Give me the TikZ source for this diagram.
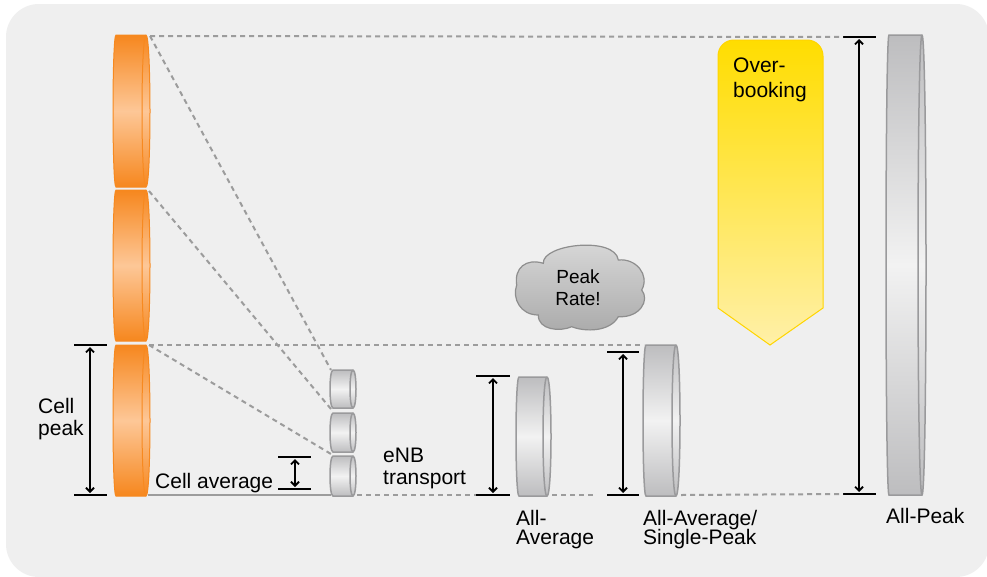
\documentclass[tikz,border=0pt]{standalone}
\usepackage{fontspec}
\setmainfont{Liberation Sans}
\usetikzlibrary{arrows.meta}
\definecolor{bgc}{HTML}{EFEFEF}
\definecolor{dashc}{HTML}{9C9C9C}
\definecolor{orA}{HTML}{F6871E}
\definecolor{orB}{HTML}{FDC797}
\definecolor{orE}{HTML}{F7891F}
\definecolor{grA}{HTML}{BDBDBF}
\definecolor{grB}{HTML}{F2F2F2}
\definecolor{grE}{HTML}{9A9A9C}
\definecolor{ylA}{HTML}{FFDD00}
\definecolor{ylB}{HTML}{FFF0A8}
\definecolor{ylE}{HTML}{FFD500}
\definecolor{clA}{HTML}{DADADA}
\definecolor{clB}{HTML}{ABABAB}
\definecolor{clE}{HTML}{8E8E8E}
\tikzset{
  og/.style={top color=orA, bottom color=orA, middle color=orB, draw=orE, line width=1pt},
  og line/.style={draw=orE, line width=1pt},
  gy/.style={top color=grA, bottom color=grA, middle color=grB, draw=grE, line width=1.5pt},
  gy line/.style={draw=grE, line width=1.5pt},
  dashln/.style={draw=dashc, line width=2pt, dash pattern=on 5pt off 4pt},
  solidln/.style={draw=dashc, line width=2.5pt},
  bar/.style={draw=black, line width=2.5pt},
  dimarr/.style={draw=black, line width=1.8pt, {Straight Barb[length=4pt,width=8pt]}-{Straight Barb[length=4pt,width=8pt]}, shorten <=2pt, shorten >=2pt},
  lbl/.style={font=\fontsize{21}{22}\selectfont, text=black, inner sep=0pt, anchor=base west},
  clbl/.style={font=\fontsize{19}{20}\selectfont, text=black, inner sep=0pt, anchor=base},
}
\newcommand{\mydisk}[7]{%
  \coordinate (#1-tl) at (#2,#4);
  \coordinate (#1-tr) at (#3,#4);
  \coordinate (#1-bl) at (#2,#5);
  \coordinate (#1-br) at (#3,#5);
  \shade[#6] (#2+3,#4) .. controls (#2-1,#4) and (#2-1,#5) .. (#2+3,#5) -- (#3-#7,#5) .. controls (#3+#7/3,#5) and (#3+#7/3,#4) .. (#3-#7,#4) -- cycle;
  \draw[#6 line] (#3-#7,#4) .. controls (#3-#7*7/3,#4) and (#3-#7*7/3,#5) .. (#3-#7,#5);
}
\newcommand{\dimarrow}[6]{%
  \coordinate (#1-t1) at (#2,#5);
  \coordinate (#1-t2) at (#3,#5);
  \coordinate (#1-b1) at (#2,#6);
  \coordinate (#1-b2) at (#3,#6);
  \coordinate (#1-at) at (#4,#5);
  \coordinate (#1-ab) at (#4,#6);
  \draw[bar] (#1-t1) -- (#1-t2);
  \draw[bar] (#1-b1) -- (#1-b2);
  \draw[dimarr] (#1-at) -- (#1-ab);
}
\begin{document}
\begin{tikzpicture}[x=1pt,y=-1pt]
\useasboundingbox (0,0) rectangle (987,576);
\fill[white] (0,0) rectangle (987,576);
\fill[bgc, rounded corners=33pt] (6,4) rectangle (989,577);

% dimension arrows
\dimarrow{dcp}{74}{107}{90}{345}{495}
\dimarrow{dca}{278}{311}{295}{457}{489}
\dimarrow{denb}{476}{510}{493}{376}{495}
\dimarrow{daasp}{607}{639}{623}{352}{495}
\dimarrow{dap}{843}{876}{859}{37}{494}
\coordinate (aaend) at (594,495);

% dashed guide lines
\coordinate (o1-tr) at (150,36);
\coordinate (o2-tr) at (149,191);
\coordinate (o3-tr) at (149,345);
\coordinate (o3-br) at (148,495);
\coordinate (s1-tl) at (331,370);
\coordinate (s1-bl) at (331,409);
\coordinate (s2-bl) at (331,454);
\coordinate (s3-bl) at (331,495);
\coordinate (s3-br) at (357,495);
\coordinate (aasp-tl) at (644,345);
\coordinate (aa-br) at (552,495);
\coordinate (aasp-br) at (681,495);
\draw[dashln] (o1-tr) -- (dap-t1);
\draw[dashln] (o1-tr) -- (s1-tl);
\draw[dashln] (o2-tr) -- (s1-bl);
\draw[dashln] (o3-tr) -- (s2-bl);
\draw[dashln] (o3-tr) -- (aasp-tl);
\draw[solidln] (o3-br) -- (s3-bl);
\draw[dashln] (s3-br) -- (denb-b1);
\draw[dashln] (aa-br) -- (aaend);
\draw[dashln] (aasp-br) -- (dap-b1);

% disks
\mydisk{o1}{113}{150}{35}{187}{og}{4}
\mydisk{o2}{113}{150}{190}{341}{og}{4}
\mydisk{o3}{113}{150}{345}{496}{og}{4}
\mydisk{s1}{330}{356}{370}{408}{gy}{3}
\mydisk{s2}{330}{356}{413}{452}{gy}{3}
\mydisk{s3}{330}{356}{456}{496}{gy}{3}
\mydisk{aa}{516}{551}{377}{496}{gy}{4}
\mydisk{aasp}{643}{680}{345}{496}{gy}{4}
\mydisk{ap}{886}{926}{35}{495}{gy}{4}

% overbooking arrow
\shade[top color=ylA, bottom color=ylB, draw=ylE, line width=1pt]
  (718,308) -- (718,56) .. controls (718,47) and (725,40) .. (734,40) -- (807,40)
  .. controls (816,40) and (823,47) .. (823,56) -- (823,308) -- (770,345) -- cycle;
\node[lbl] (ob1) at (733,72) {Over-};
\node[lbl] (ob2) at (733,97) {booking};

% cloud
\shade[top color=clA, bottom color=clB, draw=clE, line width=1.2pt]
  (516.7,285) .. controls (514,268) and (526,258) .. (543.3,263.3)
  .. controls (542,244) and (615,236) .. (618.3,260)
  .. controls (636,258) and (650,275) .. (641.7,290)
  .. controls (650,300) and (640,318) .. (618.3,316.7)
  .. controls (610,332) and (585,332) .. (571.7,326.7)
  .. controls (560,332) and (538,330) .. (538.3,315)
  .. controls (520,315) and (512,298) .. (516.7,285) -- cycle;
\node[clbl] (pk1) at (578,283) {Peak};
\node[clbl] (pk2) at (578,305) {Rate!};

% labels
\node[lbl] (cp1) at (38,413) {Cell};
\node[lbl] (cp2) at (38,435) {peak};
\node[lbl] (ca) at (155,488) {Cell average};
\node[lbl] (enb1) at (383,462) {eNB};
\node[lbl] (enb2) at (383,484) {transport};
\node[lbl] (aal1) at (516,525) {All-};
\node[lbl] (aal2) at (516,544) {Average};
\node[lbl] (asl1) at (643,525) {All-Average/};
\node[lbl] (asl2) at (643,544) {Single-Peak};
\node[lbl] (apl) at (886,523) {All-Peak};
\end{tikzpicture}
\end{document}
